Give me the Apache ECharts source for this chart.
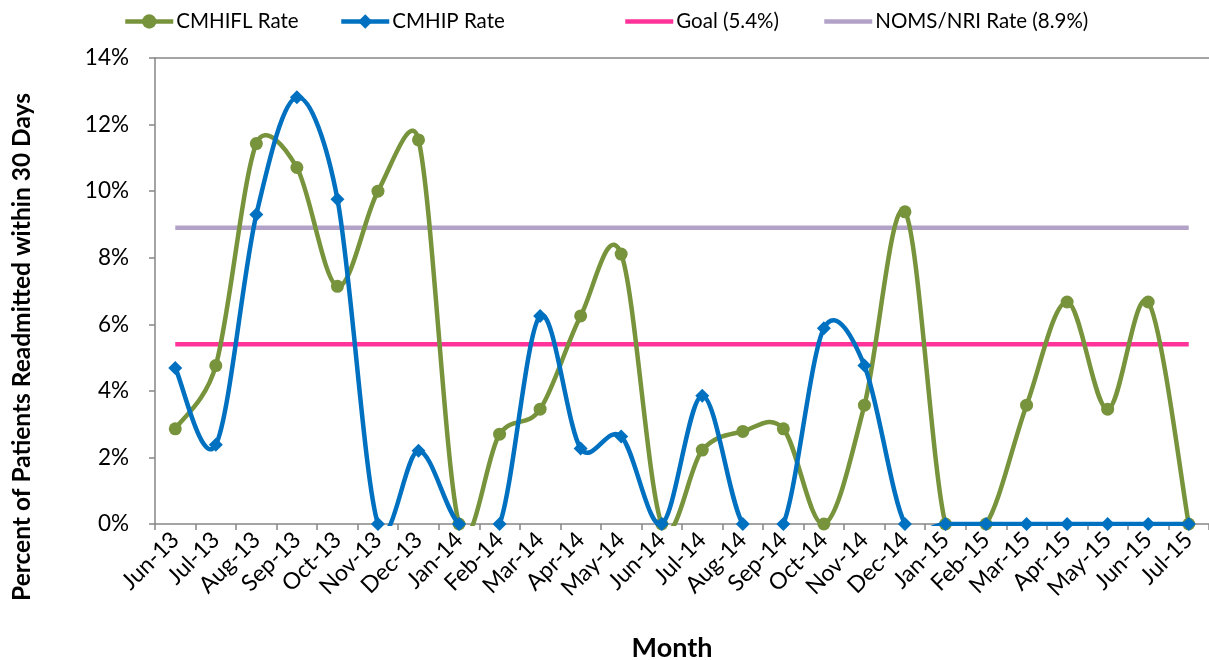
<!DOCTYPE html>
<html>
<head>
<meta charset="utf-8">
<script src="https://cdn.jsdelivr.net/npm/echarts@6/dist/echarts.min.js"></script>
<style>
  html, body { margin: 0; padding: 0; background: #ffffff; }
  #chart { width: 1209px; height: 660px; }
</style>
</head>
<body>
<div id="chart"></div>
<script>
// Monthly 30-day readmission rates (percent)
const months = ['Jun-13','Jul-13','Aug-13','Sep-13','Oct-13','Nov-13','Dec-13','Jan-14','Feb-14','Mar-14','Apr-14','May-14','Jun-14','Jul-14','Aug-14','Sep-14','Oct-14','Nov-14','Dec-14','Jan-15','Feb-15','Mar-15','Apr-15','May-15','Jun-15','Jul-15'];
const cmhiflRate = [2.86, 4.76, 11.43, 10.71, 7.14, 10.0, 11.54, 0, 2.70, 3.45, 6.25, 8.11, 0, 2.22, 2.78, 2.86, 0, 3.57, 9.38, 0, 0, 3.57, 6.67, 3.45, 6.67, 0];
const cmhipRate = [4.69, 2.38, 9.30, 12.82, 9.76, 0, 2.20, 0, 0, 6.25, 2.27, 2.63, 0, 3.85, 0, 0, 5.88, 4.76, 0, 0, 0, 0, 0, 0, 0, 0];
const goalRate = 5.4;
const nomsRate = 8.9;
const yTicks = [0, 2, 4, 6, 8, 10, 12, 14];
const seriesNames = ['CMHIFL Rate', 'CMHIP Rate', 'Goal (5.4%)', 'NOMS/NRI Rate (8.9%)'];

const goalLine = months.map(() => goalRate);
const nomsLine = months.map(() => nomsRate);

const FONT = 'Lato';
const axisGray = '#868686';
const GREEN = '#77933C';
const BLUE = '#0070C0';
const PINK = '#FF3399';
const LAVENDER = '#B3A2C7';
const LINE_W = 4.5;

// Cardinal spline drawn segment by segment in pixel space. Each control
// handle is 1/6 of the neighbouring chord, limited to half the segment
// length; the path is clipped to the plot so dips below zero stop at the axis.
function handle(prev, next, segLen) {
  let dx = (next[0] - prev[0]) / 6;
  let dy = (next[1] - prev[1]) / 6;
  const len = Math.hypot(dx, dy);
  const cap = segLen / 2;
  if (len > cap && len > 0) {
    dx *= cap / len;
    dy *= cap / len;
  }
  return [dx, dy];
}

function splineSeries(name, values, color, z) {
  return {
    type: 'custom',
    name: name,
    data: values.map((v, i) => [i, v]),
    encode: { x: 0, y: 1 },
    z: z,
    silent: true,
    renderItem: (params, api) => {
      const i = params.dataIndexInside;
      const n = params.dataInsideLength;
      if (i >= n - 1) return null;
      const pt = k => api.coord([k, api.value(1, k)]);
      const p0 = pt(Math.max(i - 1, 0));
      const p1 = pt(i);
      const p2 = pt(i + 1);
      const p3 = pt(Math.min(i + 2, n - 1));
      const seg = Math.hypot(p2[0] - p1[0], p2[1] - p1[1]);
      const h1 = handle(p0, p2, seg);
      const h2 = handle(p1, p3, seg);
      const cs = params.coordSys;
      return {
        type: 'bezierCurve',
        shape: {
          x1: p1[0], y1: p1[1],
          cpx1: p1[0] + h1[0], cpy1: p1[1] + h1[1],
          cpx2: p2[0] - h2[0], cpy2: p2[1] - h2[1],
          x2: p2[0], y2: p2[1]
        },
        style: { stroke: color, lineWidth: LINE_W, fill: 'none' },
        clipPath: {
          type: 'rect',
          shape: { x: cs.x, y: cs.y - 3, width: cs.width, height: cs.height + 5 }
        }
      };
    }
  };
}

// One legend block per series so each entry sits at its own spot
const legendLeft = [123, 339, 623, 822];
const legendColors = [GREEN, BLUE, PINK, LAVENDER];
const legends = seriesNames.map((name, i) => ({
  top: 11,
  left: legendLeft[i],
  padding: 0,
  itemWidth: 48,
  itemHeight: 18,
  textStyle: { fontFamily: FONT, fontSize: 20.5, color: '#000', padding: [0, 0, 0, -2] },
  data: [{
    name: name,
    lineStyle: { color: legendColors[i], width: LINE_W, opacity: 1 },
    itemStyle: i >= 2 ? { opacity: 0 } : { color: legendColors[i] }
  }]
}));

const chart = echarts.init(document.getElementById('chart'), null, { renderer: 'canvas' });

chart.setOption({
  animation: false,
  backgroundColor: '#ffffff',
  textStyle: { fontFamily: FONT, color: '#000' },
  legend: legends,
  grid: { left: 155, top: 58, width: 1061, height: 466 },
  xAxis: [{
    type: 'category',
    data: months,
    boundaryGap: true,
    axisLine: { lineStyle: { color: axisGray, width: 1.5 } },
    axisTick: { show: true, alignWithLabel: false, length: 6, lineStyle: { color: axisGray, width: 1.5 } },
    axisLabel: { rotate: 45, margin: 12, fontFamily: FONT, fontSize: 23, color: '#000', interval: 0 },
    splitLine: { show: false }
  }, {
    type: 'category',
    data: months,
    position: 'top',
    axisLine: { lineStyle: { color: axisGray, width: 1.5 } },
    axisTick: { show: false },
    axisLabel: { show: false }
  }],
  yAxis: {
    type: 'value',
    min: 0,
    max: 14,
    interval: 2,
    axisLine: { show: true, lineStyle: { color: axisGray, width: 1.5 } },
    axisTick: { show: true, length: 6, lineStyle: { color: axisGray, width: 1.5 } },
    axisLabel: {
      margin: 26,
      fontFamily: FONT,
      fontSize: 22.5,
      color: '#000',
      formatter: v => (yTicks.includes(v) ? v + '%' : '')
    },
    splitLine: { show: false }
  },
  graphic: [{
    type: 'text',
    x: 22, y: 347,
    rotation: Math.PI / 2,
    style: {
      text: 'Percent of Patients Readmitted within 30 Days',
      fontFamily: FONT, fontSize: 24.5, fontWeight: 'bold', fill: '#000',
      align: 'center', verticalAlign: 'middle'
    }
  }, {
    type: 'text',
    x: 672, y: 648,
    style: {
      text: 'Month',
      fontFamily: FONT, fontSize: 27, fontWeight: 'bold', fill: '#000',
      align: 'center', verticalAlign: 'middle'
    }
  }],
  series: [{
    name: seriesNames[2],
    type: 'line',
    data: goalLine,
    symbol: 'none',
    z: 1,
    lineStyle: { color: PINK, width: LINE_W },
    itemStyle: { color: PINK }
  }, {
    name: seriesNames[3],
    type: 'line',
    data: nomsLine,
    symbol: 'none',
    z: 1,
    lineStyle: { color: LAVENDER, width: LINE_W },
    itemStyle: { color: LAVENDER }
  }, {
    name: seriesNames[0],
    type: 'line',
    data: cmhiflRate,
    symbol: 'circle',
    symbolSize: 13,
    showAllSymbol: true,
    z: 3,
    lineStyle: { color: GREEN, width: LINE_W, opacity: 0 },
    itemStyle: { color: GREEN }
  },
  splineSeries(seriesNames[0], cmhiflRate, GREEN, 2),
  {
    name: seriesNames[1],
    type: 'line',
    data: cmhipRate,
    symbol: 'diamond',
    symbolSize: 14,
    showAllSymbol: true,
    z: 5,
    lineStyle: { color: BLUE, width: LINE_W, opacity: 0 },
    itemStyle: { color: BLUE }
  },
  splineSeries(seriesNames[1], cmhipRate, BLUE, 4)
  ]
});
</script>
</body>
</html>
